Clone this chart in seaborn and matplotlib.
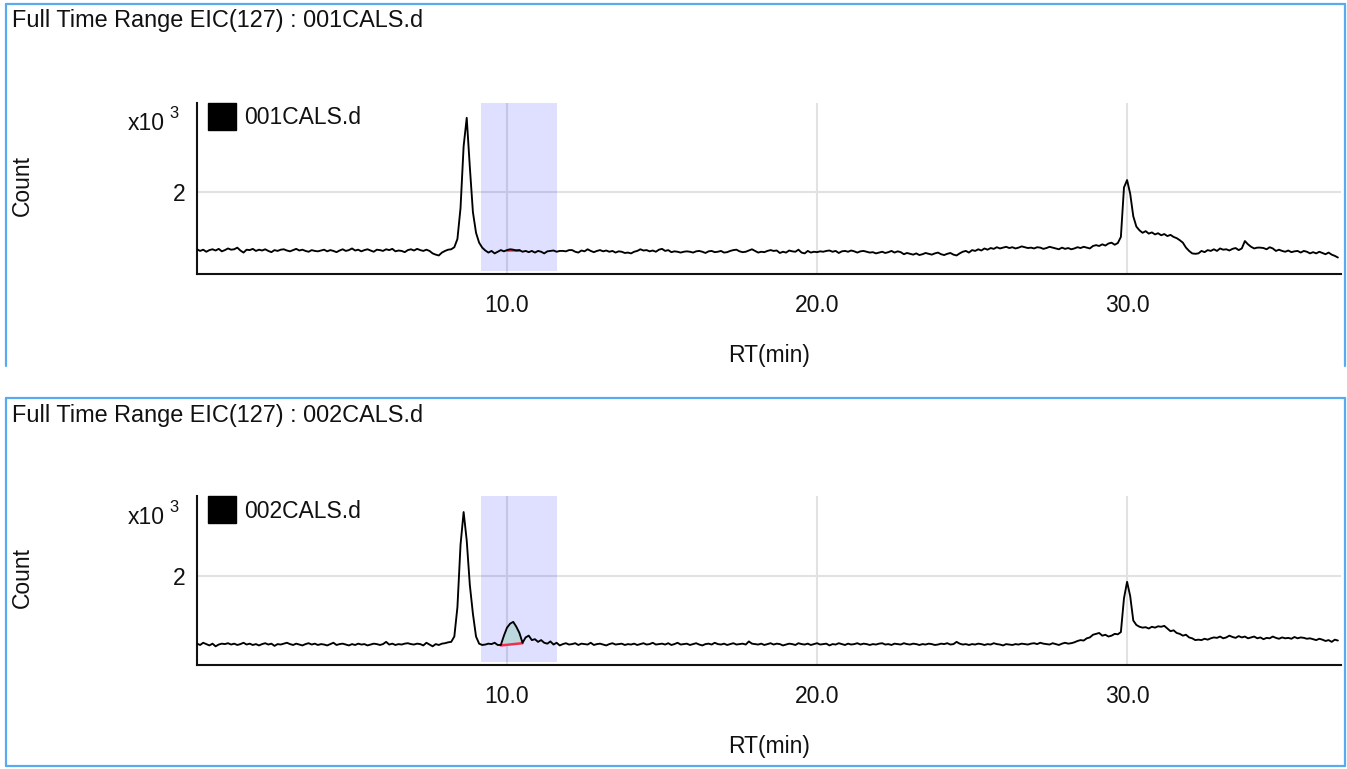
import numpy as np
import pandas as pd
import matplotlib
matplotlib.use("Agg")
import matplotlib.pyplot as plt
from matplotlib.lines import Line2D
from matplotlib.patches import Rectangle
import seaborn as sns

# ---------------- data ----------------
titles = ["Full Time Range EIC(127) : 001CALS.d", "Full Time Range EIC(127) : 002CALS.d"]
sample_names = ["001CALS.d", "002CALS.d"]
x_ticks = [10, 20, 30]
x_tick_labels = ["10.0", "20.0", "30.0"]
y_ticks = [2000]
y_tick_labels = ["2"]
rt_step = 0.1  # acquisition interval, minutes

counts_001 = [
    600, 560, 590, 540, 580, 600, 570, 610, 550, 580,
    620, 590, 600, 640, 570, 520, 590, 580, 610, 560,
    590, 570, 600, 560, 530, 580, 560, 590, 600, 570,
    550, 580, 610, 570, 590, 560, 540, 580, 560, 550,
    570, 590, 550, 580, 560, 530, 570, 600, 560, 580,
    620, 570, 590, 550, 580, 600, 570, 540, 590, 580,
    560, 600, 580, 610, 550, 570, 560, 530, 580, 600,
    570, 610, 580, 560, 590, 560, 500, 470, 450, 520,
    560, 590, 600, 650, 850, 1600, 3100, 3790, 2600, 1500,
    1000, 760, 640, 570, 520, 560, 500, 540, 580, 550,
    580, 600, 590, 570, 580, 540, 560, 530, 560, 520,
    560, 540, 500, 550, 560, 570, 540, 560, 560, 550,
    580, 580, 540, 520, 570, 550, 600, 560, 530, 560,
    580, 550, 570, 540, 560, 520, 550, 540, 510, 520,
    500, 540, 560, 600, 570, 580, 550, 570, 540, 590,
    610, 560, 580, 530, 550, 540, 520, 540, 550, 540,
    520, 550, 560, 540, 510, 550, 560, 530, 540, 560,
    520, 530, 560, 580, 590, 550, 530, 540, 570, 600,
    560, 520, 540, 530, 560, 580, 560, 570, 510, 540,
    520, 570, 550, 540, 590, 520, 500, 560, 520, 540,
    530, 550, 540, 560, 570, 540, 560, 510, 550, 560,
    540, 570, 550, 520, 550, 560, 540, 520, 530, 500,
    520, 540, 510, 530, 560, 520, 550, 530, 480, 510,
    490, 470, 500, 460, 480, 510, 490, 470, 500, 520,
    480, 460, 490, 510, 470, 450, 500, 540, 560, 520,
    580, 560, 600, 570, 620, 590, 630, 610, 650, 620,
    640, 660, 630, 650, 620, 640, 670, 650, 630, 640,
    620, 650, 640, 610, 630, 660, 640, 620, 600, 640,
    610, 630, 600, 620, 650, 630, 660, 640, 620, 680,
    700, 680, 720, 690, 740, 760, 710, 750, 900, 2100,
    2280, 1950, 1400, 1150, 1060, 1000, 1040, 980, 1010, 960,
    990, 940, 970, 920, 950, 900, 870, 820, 760, 640,
    560, 500, 490, 500, 560, 530, 580, 560, 600, 560,
    620, 590, 600, 570, 610, 630, 580, 620, 800, 720,
    660, 620, 640, 640, 630, 600, 650, 620, 560, 590,
    560, 540, 570, 530, 550, 560, 520, 560, 540, 500,
    530, 500, 540, 510, 480, 520, 470, 440, 400,
]

counts_002 = [
    480, 450, 500, 470, 440, 480, 420, 460, 480, 470,
    490, 460, 480, 450, 470, 500, 460, 480, 450, 470,
    440, 470, 490, 460, 480, 430, 470, 460, 480, 500,
    470, 450, 480, 460, 440, 470, 490, 460, 480, 450,
    470, 460, 440, 470, 500, 450, 470, 480, 460, 440,
    470, 450, 480, 460, 470, 440, 460, 480, 470, 450,
    470, 520, 460, 480, 450, 470, 460, 480, 490, 470,
    460, 480, 470, 440, 500, 460, 420, 470, 450, 480,
    490, 510, 520, 640, 1300, 2700, 3440, 2800, 1800, 1150,
    640, 480, 450, 460, 480, 470, 500, 450, 450, 660,
    840, 930, 970, 860, 720, 500, 620, 660, 560, 580,
    520, 560, 500, 480, 530, 460, 500, 440, 470, 490,
    460, 470, 490, 450, 480, 470, 460, 500, 450, 470,
    480, 460, 440, 470, 490, 460, 470, 480, 450, 470,
    460, 480, 450, 470, 490, 460, 470, 500, 460, 470,
    480, 460, 490, 450, 470, 500, 460, 470, 480, 450,
    470, 490, 460, 440, 470, 480, 460, 500, 470, 460,
    480, 450, 470, 490, 460, 470, 480, 460, 530, 480,
    470, 460, 480, 450, 470, 490, 460, 480, 470, 440,
    460, 480, 470, 450, 490, 470, 460, 480, 450, 470,
    490, 460, 470, 480, 440, 470, 460, 490, 470, 450,
    480, 460, 470, 490, 460, 480, 470, 450, 470, 460,
    480, 490, 460, 470, 450, 480, 470, 460, 490, 470,
    460, 480, 470, 450, 470, 460, 480, 470, 450, 460,
    480, 470, 490, 460, 470, 520, 480, 460, 470, 450,
    470, 460, 480, 470, 450, 470, 460, 490, 470, 460,
    440, 470, 460, 450, 470, 460, 480, 470, 460, 480,
    490, 470, 500, 480, 470, 460, 490, 470, 450, 480,
    500, 480, 490, 510, 540, 560, 550, 600, 620, 680,
    700, 720, 660, 680, 640, 660, 700, 690, 740, 1500,
    1870, 1550, 1000, 900, 860, 840, 850, 820, 860, 840,
    870, 860, 880, 820, 760, 780, 720, 700, 660, 680,
    620, 600, 560, 570, 560, 590, 570, 600, 620, 610,
    640, 600, 620, 660, 630, 610, 650, 620, 640, 600,
    620, 640, 600, 620, 580, 610, 600, 640, 610, 590,
    620, 600, 610, 590, 630, 600, 620, 610, 590, 600,
    580, 560, 590, 570, 540, 560, 520, 570, 550,
]

# highlighted RT window and integrated peak baselines
window = [9.15, 11.6]
integ_rt = [[10.0, 10.4], [9.8, 10.5]]
integ_base = [[580, 580], [440, 490]]
x_max = 36.9
y_max = [4150, 3800]

# ---------------- style ----------------
sns.set_theme(style="white")
plt.rcParams["font.family"] = ["Liberation Sans", "DejaVu Sans"]
W, H = 1347, 769
fig = plt.figure(figsize=(W / 100, H / 100), dpi=100)
fig.patch.set_facecolor("white")

def fx(px):
    return px / W

def fy(py):
    return 1 - py / H

border_col = "#5aaaf0"
FS = 16.5
TITLE_FS = 16.9

# panel geometry (pixel rows: box top, box bottom, axes top, axes bottom)
panels = [
    dict(box_top=4, box_bot=366, draw_bottom=False, ax_top=103, ax_bot=274),
    dict(box_top=398, box_bot=766, draw_bottom=True, ax_top=496, ax_bot=665),
]
series = [counts_001, counts_002]

for i, p in enumerate(panels):
    # frame
    xl, xr = 5.5, 1344.5
    segs = [((xl, p["box_top"]), (xr, p["box_top"])),
            ((xl, p["box_top"]), (xl, p["box_bot"])),
            ((xr, p["box_top"]), (xr, p["box_bot"]))]
    if p["draw_bottom"]:
        segs.append(((xl, p["box_bot"]), (xr, p["box_bot"])))
    for (a, b) in segs:
        fig.add_artist(Line2D([fx(a[0]), fx(b[0])], [fy(a[1]), fy(b[1])],
                              color=border_col, lw=1.6, transform=fig.transFigure))
    fig.text(fx(12), fy(p["box_top"] + 17), titles[i], fontsize=TITLE_FS, ha="left",
             va="center", color="#111111")

    ax = fig.add_axes([fx(197), fy(p["ax_bot"]), fx(1341) - fx(197),
                       (p["ax_bot"] - p["ax_top"]) / H])
    vals = np.array(series[i], dtype=float)
    rt = np.round(np.arange(len(vals)) * rt_step, 2)
    df = pd.DataFrame({"RT": rt, "Count": vals})

    ax.set_axisbelow(True)
    ax.grid(True, color="#e2e2e2", lw=1.5)
    ax.axvspan(window[0], window[1], ymin=0.02, ymax=1, color=(0.0, 0.0, 1.0),
               alpha=0.125, lw=0, zorder=1)

    # integrated peak
    m = (df.RT >= integ_rt[i][0] - 1e-9) & (df.RT <= integ_rt[i][1] + 1e-9)
    seg_t = df.RT[m].to_numpy()
    seg_v = df.Count[m].to_numpy()
    base = np.interp(seg_t, integ_rt[i], integ_base[i])
    ax.fill_between(seg_t, seg_v, base, where=seg_v >= base, color="#bcd8de",
                    lw=0, zorder=2)
    ax.plot(integ_rt[i], integ_base[i], color="#f0304a", lw=1.8, zorder=2.5)

    sns.lineplot(data=df, x="RT", y="Count", ax=ax, color="black", lw=1.35,
                 estimator=None, sort=False, legend=False, zorder=3)

    ax.set_xlim(0, x_max)
    ax.set_ylim(0, y_max[i])
    ax.set_xticks(x_ticks)
    ax.set_xticklabels(x_tick_labels)
    ax.set_yticks(y_ticks)
    ax.set_yticklabels(y_tick_labels)
    ax.set_xlabel("")
    ax.set_ylabel("")
    for s in ["top", "right"]:
        ax.spines[s].set_visible(False)
    for s in ["left", "bottom"]:
        ax.spines[s].set_color("#111111")
        ax.spines[s].set_linewidth(1.5)
    ax.tick_params(axis="both", direction="out", length=5.5, width=1.3,
                   color="#111111", labelsize=FS, labelcolor="#111111")
    ax.tick_params(axis="x", pad=9)
    ax.tick_params(axis="y", pad=3)
    ax.set_facecolor("white")

    top = p["ax_top"]
    # legend swatch and label
    fig.add_artist(Rectangle((fx(208), fy(top + 27)), fx(236) - fx(208), 27 / H,
                             facecolor="black", edgecolor="black",
                             transform=fig.transFigure))
    fig.text(fx(244), fy(top + 15), sample_names[i], fontsize=FS, ha="left",
             va="center", color="#111111")
    # multiplier label
    fig.text(fx(165), fy(top + 21), "x10", fontsize=FS, ha="right", va="center",
             color="#111111")
    fig.text(fx(169), fy(top + 11), "3", fontsize=FS * 0.72, ha="left",
             va="center", color="#111111")
    # axis titles
    fig.text(fx(22), fy((p["ax_top"] + p["ax_bot"]) / 2 - 3), "Count", fontsize=FS,
             rotation=90, ha="center", va="center", color="#111111")
    fig.text(fx(769), fy(p["ax_bot"] + 81), "RT(min)", fontsize=FS, ha="center",
             va="center", color="#111111")

fig.savefig("out.png", dpi=100, facecolor="white")
